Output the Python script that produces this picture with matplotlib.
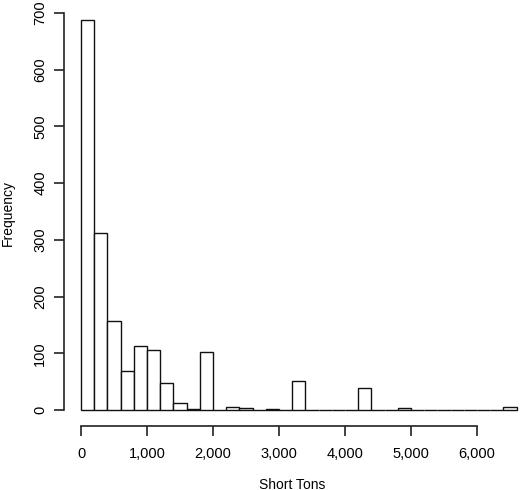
import numpy as np
import matplotlib.pyplot as plt

plt.rcParams["font.family"] = ["Liberation Sans", "DejaVu Sans"]

# bin edges (short tons) and counts
bin_width = 200
bin_edges = list(range(0, 6600 + bin_width, bin_width))
counts = [687, 313, 157, 68, 112, 105, 48, 13, 2, 103,
          0, 6, 4, 0, 1, 0, 51, 0, 0, 0,
          0, 39, 0, 0, 3, 0, 0, 0, 0, 0,
          0, 0, 6]
x_ticks = [0, 1000, 2000, 3000, 4000, 5000, 6000]
y_ticks = [0, 100, 200, 300, 400, 500, 600, 700]

fig = plt.figure(figsize=(5.2, 4.9), dpi=100)
ax = fig.add_axes([64 / 520, 64 / 490, 1 - 64 / 520, 1 - 64 / 490])

ax.bar(bin_edges[:-1], counts, width=bin_width, align="edge",
       facecolor="white", edgecolor="#111111", linewidth=1.0)

ax.set_xlim(-257.6, 6651.5)
ax.set_ylim(-28.2, 723)

for side in ["top", "right"]:
    ax.spines[side].set_visible(False)
ax.spines["left"].set_bounds(0, 700)
ax.spines["bottom"].set_bounds(0, 6000)
for side in ["left", "bottom"]:
    ax.spines[side].set_linewidth(1.2)
    ax.spines[side].set_color("#222222")

ax.set_xticks(x_ticks)
ax.set_xticklabels(["{:,}".format(t) for t in x_ticks])
ax.set_yticks(y_ticks)
ax.set_yticklabels([str(t) for t in y_ticks], rotation=90, va="center")
ax.tick_params(direction="out", length=7, width=1.2, color="#222222",
               labelsize=10.5, pad=5)
ax.tick_params(axis="x", pad=8)

ax.set_xlabel("Short Tons", fontsize=10, labelpad=12)
ax.set_ylabel("Frequency", fontsize=10, labelpad=13)

fig.savefig("out.png", dpi=100)
